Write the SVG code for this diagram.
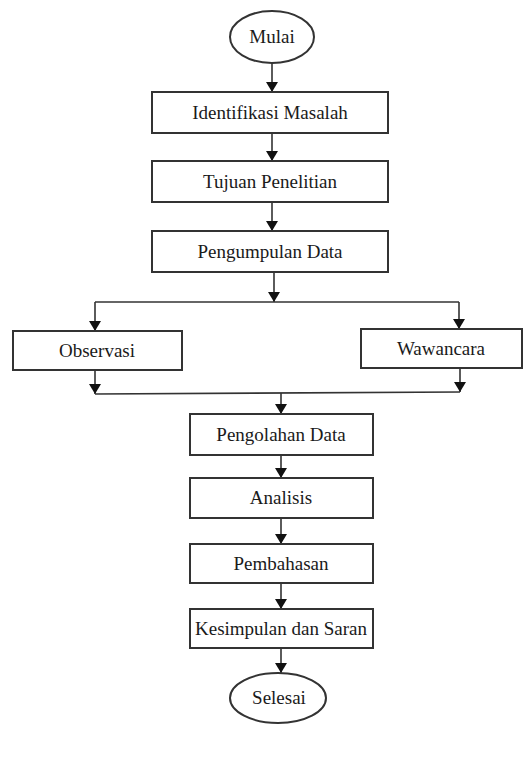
<svg xmlns="http://www.w3.org/2000/svg" width="529" height="763" viewBox="0 0 529 763">
<style>
.box{fill:#fff;stroke:#333;stroke-width:2}
.lbl{font-family:"Liberation Serif","Times New Roman",serif;font-size:19px;fill:#1a1a1a;text-anchor:middle}
.ln{fill:none;stroke:#333;stroke-width:1.6}
</style>
<defs>
<marker id="ah" viewBox="0 0 10 12" refX="10" refY="6" markerWidth="11" markerHeight="12" markerUnits="userSpaceOnUse" orient="auto">
<path d="M0,0 L10,6 L0,12 z" fill="#111"/>
</marker>
</defs>
<rect width="529" height="763" fill="#fff"/>
<g id="connectors">
<path class="ln" d="M272,63 V92" marker-end="url(#ah)"/>
<path class="ln" d="M272,133 V161" marker-end="url(#ah)"/>
<path class="ln" d="M272,202 V231" marker-end="url(#ah)"/>
<path class="ln" d="M274,272 V302" marker-end="url(#ah)"/>
<path class="ln" d="M95,302 H459"/>
<path class="ln" d="M95,302 V331" marker-end="url(#ah)"/>
<path class="ln" d="M459,302 V329" marker-end="url(#ah)"/>
<path class="ln" d="M95,370 V394" marker-end="url(#ah)"/>
<path class="ln" d="M460,368 V392" marker-end="url(#ah)"/>
<path class="ln" d="M95,394 L460,392"/>
<path class="ln" d="M281,393 V414" marker-end="url(#ah)"/>
<path class="ln" d="M281,455 V478" marker-end="url(#ah)"/>
<path class="ln" d="M281,518 V544" marker-end="url(#ah)"/>
<path class="ln" d="M281,583 V609" marker-end="url(#ah)"/>
<path class="ln" d="M281,648 V673" marker-end="url(#ah)"/>
</g>
<g id="mulai"><ellipse class="box" cx="272" cy="37" rx="42" ry="26"/><text class="lbl" x="272" y="43">Mulai</text></g>
<g id="identifikasi"><rect class="box" x="152" y="92" width="236" height="41"/><text class="lbl" x="270" y="119">Identifikasi Masalah</text></g>
<g id="tujuan"><rect class="box" x="152" y="161" width="236" height="41"/><text class="lbl" x="270" y="188">Tujuan Penelitian</text></g>
<g id="pengumpulan"><rect class="box" x="152" y="231" width="236" height="41"/><text class="lbl" x="270" y="258">Pengumpulan Data</text></g>
<g id="observasi"><rect class="box" x="13" y="331" width="169" height="39"/><text class="lbl" x="97" y="357">Observasi</text></g>
<g id="wawancara"><rect class="box" x="361" y="329" width="161" height="39"/><text class="lbl" x="441" y="355">Wawancara</text></g>
<g id="pengolahan"><rect class="box" x="190" y="414" width="183" height="41"/><text class="lbl" x="281" y="441">Pengolahan Data</text></g>
<g id="analisis"><rect class="box" x="190" y="478" width="183" height="40"/><text class="lbl" x="281" y="504">Analisis</text></g>
<g id="pembahasan"><rect class="box" x="190" y="544" width="183" height="39"/><text class="lbl" x="281" y="570">Pembahasan</text></g>
<g id="kesimpulan"><rect class="box" x="190" y="609" width="183" height="39"/><text class="lbl" x="281" y="635">Kesimpulan dan Saran</text></g>
<g id="selesai"><ellipse class="box" cx="278" cy="698" rx="48" ry="25"/><text class="lbl" x="279" y="704">Selesai</text></g>
</svg>
